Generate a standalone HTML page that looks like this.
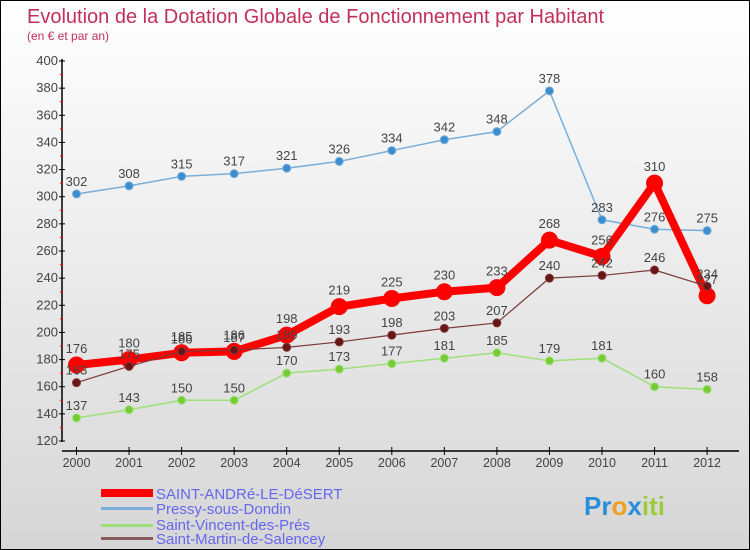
<!DOCTYPE html>
<html><head><meta charset="utf-8"><style>
body{margin:0}
#c{width:750px;height:550px;position:relative;box-sizing:border-box;border:1px solid #000;background:linear-gradient(#ffffff,#d6d6d6);overflow:hidden;font-family:"Liberation Sans",sans-serif}
</style></head><body>
<div id="c">
<svg id="s" width="750" height="550" style="position:absolute;left:0;top:0">
<text x="26" y="22" font-size="20" fill="#c2305a">Evolution de la Dotation Globale de Fonctionnement par Habitant</text>
<text x="26" y="39" font-size="12" fill="#c2305a">(en € et par an)</text>
<line x1="61" y1="58" x2="61" y2="441" stroke="#000" stroke-width="1.5"/>
<line x1="61" y1="450" x2="738" y2="450" stroke="#000" stroke-width="1.5"/>
<g id="ax"></g><g id="series"></g>
<g>
<rect x="100" y="488" width="52" height="8" fill="#f00"/>
<text x="155" y="498" font-size="15" fill="#6666ee">SAINT-ANDRé-LE-DéSERT</text>
<rect x="100" y="506" width="52" height="3" fill="#7aaed8"/>
<text x="155" y="513" font-size="15" fill="#6666ee">Pressy-sous-Dondin</text>
<rect x="100" y="523" width="52" height="3" fill="#9de07a"/>
<text x="155" y="529" font-size="15" fill="#6666ee">Saint-Vincent-des-Prés</text>
<rect x="100" y="536" width="52" height="3" fill="#8a5a5a"/>
<text x="155" y="543" font-size="15" fill="#6666ee">Saint-Martin-de-Salencey</text>
</g>
<text x="583" y="514" font-size="26" font-weight="bold"><tspan fill="#2a8fd8">Pr</tspan><tspan fill="#f0a020">o</tspan><tspan fill="#2a8fd8">x</tspan><tspan fill="#9ccc3a">iti</tspan></text>
</svg>
</div>
<script>
const years=[2000,2001,2002,2003,2004,2005,2006,2007,2008,2009,2010,2011,2012];
const yTicks=[120,140,160,180,200,220,240,260,280,300,320,340,360,380,400];
const saintAndre=[176,180,185,186,198,219,225,230,233,268,256,310,227];
const pressy=[302,308,315,317,321,326,334,342,348,378,283,276,275];
const saintVincent=[137,143,150,150,170,173,177,181,185,179,181,160,158];
const saintMartin=[163,175,186,187,189,193,198,203,207,240,242,246,234];
const NS="http://www.w3.org/2000/svg";
function X(i){return 75.5+i*52.55;}
function Y(v){return 440-(v-120)*380/280;}
function mk(t,a,p){const e=document.createElementNS(NS,t);for(const k in a)e.setAttribute(k,a[k]);p.appendChild(e);return e;}
const ax=document.getElementById('ax');
yTicks.forEach(v=>{
 const l=mk('line',{x1:58,x2:64,y1:Y(v),y2:Y(v),stroke:'#000'},ax);
 
 
 if(v<400){const m=mk('line',{x1:59,x2:62,y1:Y(v+10),y2:Y(v+10),stroke:'#f00'},ax);
 
 }
 const t=mk('text',{x:57,y:Y(v)+4,'font-size':13,fill:'#444','text-anchor':'end'},ax);t.textContent=v;
 
 
});
years.forEach((yr,i)=>{
 const l=mk('line',{x1:X(i),x2:X(i),y1:446,y2:454,stroke:'#000'},ax);
 
 
 const t=mk('text',{x:X(i),y:466,'font-size':12.5,fill:'#444','text-anchor':'middle'},ax);t.textContent=yr;
 
 
});
const sg=document.getElementById('series');
function draw(vals,color,dot,w,r,name,lblOff){
 const g=mk('g',{},sg);
 
 
 const pl=mk('polyline',{points:vals.map((v,i)=>X(i)+','+Y(v)).join(' '),fill:'none',stroke:color,'stroke-width':w,'stroke-linejoin':'round'},g);
 
 
 vals.forEach((v,i)=>{
  const c=mk('circle',{cx:X(i),cy:Y(v),r:r,fill:dot,stroke:color,'stroke-width':1},g);
  
  
  const t=mk('text',{x:X(i),y:Y(v)-lblOff,'font-size':13,fill:'#444','text-anchor':'middle'},g);t.textContent=v;
  
  
 });
}
draw(saintVincent,'#9de07a','#77cc33',1.5,4,'series-saint-vincent',8);
draw(pressy,'#7aaed8','#3a8ed0',1.5,4,'series-pressy',8);
draw(saintAndre,'#ff0000','#ff0000',8,8,'series-saint-andre',12);
draw(saintMartin,'#7a3a3a','#6a1515',1.2,4,'series-saint-martin',8);
</script>
</body></html>
